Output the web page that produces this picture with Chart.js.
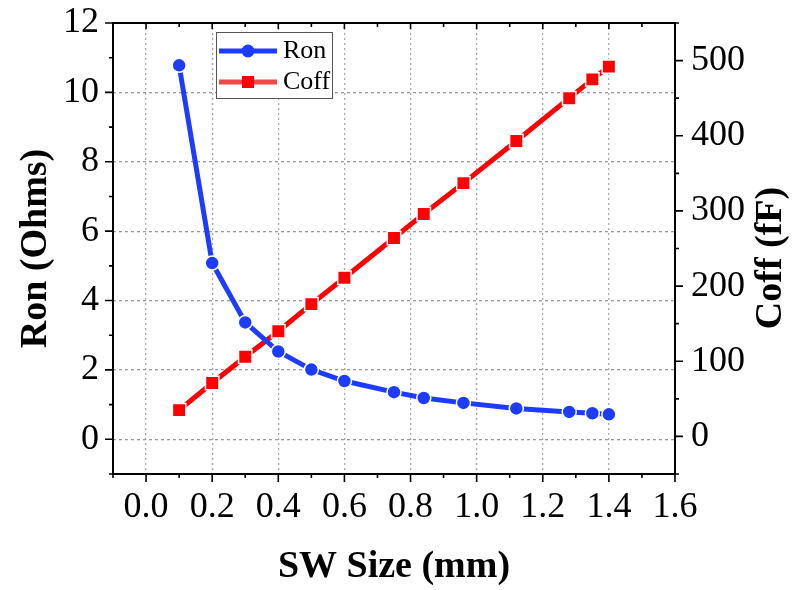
<!DOCTYPE html>
<html>
<head>
<meta charset="utf-8">
<script src="https://cdn.jsdelivr.net/npm/chart.js@4/dist/chart.umd.min.js"></script>
<style>
  html, body { margin: 0; padding: 0; background: #fff; }
  canvas { display: block; }
</style>
</head>
<body>
<canvas id="myChart" width="793" height="590"></canvas>
<script>
// datos
const swSize = [0.1, 0.2, 0.3, 0.4, 0.5, 0.6, 0.75, 0.84, 0.96, 1.12, 1.28, 1.35, 1.4];
const ron = [10.78, 5.08, 3.37, 2.53, 2.01, 1.68, 1.36, 1.19, 1.05, 0.89, 0.79, 0.75, 0.72];
const coff = [35, 71, 106, 140, 176, 211, 264, 296, 337, 393, 450, 475, 492];

const FONT = '"Liberation Serif", "Times New Roman", serif';
const BLUE = 'rgb(30, 60, 255)';
const RED = 'rgb(255, 0, 0)';

const isMajorX = v => Math.abs(v * 5 - Math.round(v * 5)) < 1e-6 && v >= -1e-6;
const isMajorY = v => Math.abs(v / 2 - Math.round(v / 2)) < 1e-6 && v >= 0;
const isMajorY1 = v => Math.abs(v / 100 - Math.round(v / 100)) < 1e-6 && v >= 0 && v <= 500;

// quitar el relleno extra que Chart.js pone por las etiquetas
function fixSize(prop, val) {
    return (s) => {
        s[prop] = val;
        s.paddingTop = 0; s.paddingBottom = 0;
        s.paddingLeft = 0; s.paddingRight = 0;
    };
}

// Marco y marcas de ejes (mayores y menores)
const framePlugin = {
    id: 'framePlugin',
    afterDraw: (chart) => {
        const ctx = chart.ctx;
        const a = chart.chartArea;
        const sx = chart.scales.x, sy = chart.scales.y, sy1 = chart.scales.y1;
        ctx.save();
        ctx.strokeStyle = '#000';
        ctx.lineWidth = 2;
        ctx.strokeRect(a.left, a.top, a.right - a.left, a.bottom - a.top);
        ctx.lineWidth = 1.6;
        ctx.beginPath();
        sx.ticks.forEach(t => {
            const px = sx.getPixelForValue(t.value);
            const major = isMajorX(t.value);
            ctx.moveTo(px, a.bottom);
            ctx.lineTo(px, a.bottom + (major ? 8 : 4));
            ctx.moveTo(px, a.top);
            ctx.lineTo(px, a.top + (major ? 6 : 4));
        });
        sy.ticks.forEach(t => {
            const py = sy.getPixelForValue(t.value);
            ctx.moveTo(a.left, py);
            ctx.lineTo(a.left - (isMajorY(t.value) ? 8 : 4), py);
        });
        sy1.ticks.forEach(t => {
            const py = sy1.getPixelForValue(t.value);
            ctx.moveTo(a.right, py);
            ctx.lineTo(a.right + (isMajorY1(t.value) ? 8 : 4), py);
        });
        ctx.stroke();

        // titulo del eje derecho, leido de abajo hacia arriba
        ctx.fillStyle = '#000';
        ctx.font = 'bold 38px ' + FONT;
        ctx.textAlign = 'center';
        ctx.textBaseline = 'middle';
        ctx.translate(771, 258);
        ctx.rotate(-Math.PI / 2);
        ctx.fillText('Coff (fF)', 0, 0);
        ctx.restore();
    }
};

// Leyenda dibujada a mano (linea + marcador)
const legendPlugin = {
    id: 'legendPlugin',
    afterDraw: (chart) => {
        const ctx = chart.ctx;
        ctx.save();
        ctx.fillStyle = '#fff';
        ctx.fillRect(216, 32, 117, 67);
        ctx.strokeStyle = '#555';
        ctx.lineWidth = 1;
        ctx.strokeRect(216.5, 32.5, 116, 66);

        ctx.lineWidth = 5;
        ctx.strokeStyle = BLUE;
        ctx.beginPath();
        ctx.moveTo(219, 51); ctx.lineTo(277, 51);
        ctx.stroke();
        ctx.fillStyle = BLUE;
        ctx.beginPath();
        ctx.arc(248, 51, 6.5, 0, Math.PI * 2);
        ctx.fill();

        ctx.strokeStyle = 'rgba(240, 40, 40, 0.85)';
        ctx.beginPath();
        ctx.moveTo(219, 82); ctx.lineTo(277, 82);
        ctx.stroke();
        ctx.fillStyle = RED;
        ctx.fillRect(242, 76, 12, 12);

        ctx.fillStyle = '#000';
        ctx.font = '26px ' + FONT;
        ctx.textBaseline = 'middle';
        ctx.fillText('Ron', 283, 51);
        ctx.fillText('Coff', 283, 82);
        ctx.restore();
    }
};

const ctx = document.getElementById('myChart').getContext('2d');
new Chart(ctx, {
    type: 'line',
    data: {
        datasets: [{
            label: 'Ron',
            data: swSize.map((s, i) => ({ x: s, y: ron[i] })),
            yAxisID: 'y',
            borderColor: BLUE,
            borderWidth: 5,
            pointStyle: 'circle',
            pointRadius: 7,
            pointBackgroundColor: BLUE,
            pointBorderColor: '#fff',
            pointBorderWidth: 1.5,
            tension: 0
        }, {
            label: 'Coff',
            data: swSize.map((s, i) => ({ x: s, y: coff[i] })),
            yAxisID: 'y1',
            borderColor: RED,
            borderWidth: 5,
            pointStyle: 'rect',
            pointRadius: 9.5,
            pointBackgroundColor: RED,
            pointBorderColor: '#fff',
            pointBorderWidth: 1.5,
            tension: 0
        }]
    },
    options: {
        responsive: false,
        animation: false,
        devicePixelRatio: 1,
        layout: { padding: { top: 23, left: 0, right: 0, bottom: 0 } },
        plugins: {
            legend: { display: false },
            tooltip: { enabled: false }
        },
        scales: {
            x: {
                type: 'linear',
                min: -0.1,
                max: 1.6,
                afterFit: fixSize('height', 116),
                ticks: {
                    stepSize: 0.1,
                    color: '#000',
                    padding: 12,
                    maxRotation: 0,
                    autoSkip: false,
                    font: { family: FONT, size: 36 },
                    callback: (v) => isMajorX(v) ? v.toFixed(1) : ''
                },
                grid: {
                    drawTicks: false,
                    lineWidth: 1.3,
                    color: (c) => {
                        const v = c.tick ? c.tick.value : 0;
                        return isMajorX(v) && v < 1.59 ? '#aaa' : 'rgba(0,0,0,0)';
                    }
                },
                border: { display: false, dash: [2, 3] },
                title: {
                    display: true,
                    text: 'SW Size (mm)',
                    color: '#000',
                    padding: { top: 0, bottom: 0 },
                    font: { family: FONT, size: 38, weight: 'bold' }
                }
            },
            y: {
                type: 'linear',
                position: 'left',
                min: -1,
                max: 12,
                afterFit: fixSize('width', 113),
                ticks: {
                    stepSize: 1,
                    color: '#000',
                    padding: 14,
                    autoSkip: false,
                    font: { family: FONT, size: 36 },
                    callback: (v) => isMajorY(v) ? String(v) : ''
                },
                grid: {
                    drawTicks: false,
                    lineWidth: 1.3,
                    color: (c) => {
                        const v = c.tick ? c.tick.value : -1;
                        return isMajorY(v) && v < 11.5 ? '#999' : 'rgba(0,0,0,0)';
                    }
                },
                border: { display: false, dash: [3, 3] },
                title: {
                    display: true,
                    text: 'Ron (Ohms)',
                    color: '#000',
                    padding: { top: 13, bottom: 0 },
                    font: { family: FONT, size: 38, weight: 'bold' }
                }
            },
            y1: {
                type: 'linear',
                position: 'right',
                min: -50,
                max: 550,
                afterFit: fixSize('width', 118),
                ticks: {
                    stepSize: 50,
                    color: '#000',
                    padding: 16,
                    autoSkip: false,
                    font: { family: FONT, size: 36 },
                    callback: (v) => isMajorY1(v) ? String(v) : ''
                },
                grid: { drawOnChartArea: false, drawTicks: false },
                border: { display: false }
            }
        }
    },
    plugins: [framePlugin, legendPlugin]
});
</script>
</body>
</html>
